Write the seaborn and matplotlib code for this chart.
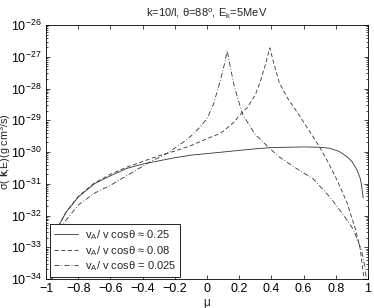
import numpy as np
import pandas as pd
import matplotlib
matplotlib.use("Agg")
import matplotlib.pyplot as plt
import seaborn as sns
from matplotlib.ticker import LogLocator, FixedLocator, NullLocator, FuncFormatter

# ---- data (log10 of sigma) ----
mu_a = [-0.97, -0.95, -0.94, -0.876, -0.8, -0.7, -0.6, -0.5, -0.4, -0.3, -0.2, -0.1,
        0.0, 0.1, 0.2, 0.3, 0.4, 0.5, 0.6, 0.7, 0.76, 0.82, 0.87, 0.9, 0.93, 0.95, 0.96, 0.97]
lg_a = [-34.0, -33.2, -32.5, -31.9, -31.42, -31.0, -30.75, -30.52, -30.38, -30.28, -30.18, -30.1,
        -30.05, -30.0, -29.95, -29.9, -29.86, -29.85, -29.84, -29.85, -29.88, -29.98, -30.15, -30.3,
        -30.55, -30.8, -31.05, -31.45]

mu_b = [-0.97, -0.95, -0.94, -0.876, -0.8, -0.7, -0.6, -0.5, -0.4, -0.3, -0.2, -0.1, 0.0, 0.06,
        0.1, 0.17, 0.2, 0.25, 0.3, 0.33, 0.36, 0.39, 0.42, 0.45, 0.5, 0.58, 0.65, 0.7, 0.75, 0.8,
        0.87, 0.92, 0.95, 0.97, 0.975]
lg_b = [-34.0, -33.2, -32.5, -31.9, -31.4, -30.98, -30.7, -30.48, -30.3, -30.12, -29.97, -29.8,
        -29.58, -29.46, -29.35, -29.05, -28.85, -28.6, -28.2, -27.8, -27.3, -26.72, -27.3, -27.83,
        -28.3, -28.9, -29.45, -29.85, -30.3, -30.8, -31.6, -32.4, -33.0, -33.8, -34.0]

mu_c = [-0.96, -0.93, -0.9, -0.8, -0.7, -0.6, -0.5, -0.4, -0.35, -0.25, -0.15, -0.1, -0.05, 0.0,
        0.04, 0.08, 0.11, 0.125, 0.14, 0.17, 0.22, 0.25, 0.3, 0.38, 0.45, 0.55, 0.66, 0.76, 0.85,
        0.91, 0.96, 0.98, 0.99]
lg_c = [-34.0, -32.8, -32.3, -31.67, -31.3, -31.05, -30.75, -30.45, -30.3, -30.05, -29.7, -29.5,
        -29.25, -28.95, -28.5, -27.8, -27.2, -26.8, -27.2, -27.95, -28.8, -29.05, -29.45, -29.84,
        -30.16, -30.5, -30.85, -31.4, -32.0, -32.45, -33.1, -33.6, -34.0]

labels = ["v$_\\mathregular{A}$/ v cos\u03b8 \u2248 0.25",
          "v$_\\mathregular{A}$/ v cos\u03b8 \u2248 0.08",
          "v$_\\mathregular{A}$/ v cos\u03b8 = 0.025"]
styles = ["-", (0, (5, 3)), (0, (6, 2.5, 1, 2.5))]

xticks = [-1, -0.8, -0.6, -0.4, -0.2, 0, 0.2, 0.4, 0.6, 0.8, 1]

sns.set_theme(style="ticks")
plt.rcParams["font.family"] = ["Liberation Sans", "DejaVu Sans"]
plt.rcParams["mathtext.fontset"] = "custom"
plt.rcParams["mathtext.rm"] = "Liberation Sans"
plt.rcParams["mathtext.it"] = "Liberation Sans:italic"
plt.rcParams["mathtext.bf"] = "Liberation Sans:bold"

fig = plt.figure(figsize=(3.74, 3.08), dpi=100)
ax = fig.add_axes([46 / 374, 29 / 308, 322 / 374, 254 / 308])

for mu, lg, lab, ls in zip([mu_a, mu_b, mu_c], [lg_a, lg_b, lg_c], labels, styles):
    df = pd.DataFrame({"mu": mu, "sigma": 10.0 ** np.array(lg)})
    sns.lineplot(data=df, x="mu", y="sigma", ax=ax, color="#333333", linewidth=0.6,
                 linestyle=ls, label=lab, sort=True)

ax.set_yscale("log")
ax.set_xlim(-1, 1)
ax.set_ylim(1e-34, 1e-26)
ax.xaxis.set_major_locator(FixedLocator(xticks))
ax.xaxis.set_minor_locator(NullLocator())
ax.xaxis.set_major_formatter(FuncFormatter(lambda v, p: ("%g" % v).replace("-", "\u2212")))
ax.yaxis.set_major_locator(LogLocator(base=10, numticks=20))
ax.yaxis.set_minor_locator(LogLocator(base=10, subs=np.arange(2, 10), numticks=20))

ax.tick_params(which="both", direction="in", top=True, right=True, labelsize=9, colors="black",
               width=0.5, pad=3)
ax.tick_params(which="major", length=3)
ax.tick_params(which="minor", length=1.5)
for s in ax.spines.values():
    s.set_linewidth(0.6)
    s.set_color("black")

ax.set_xlabel("\u03bc", fontsize=8.5, labelpad=1)
ax.set_ylabel("\u03c3( $\\mathbf{k}$,E)(g cm$^3$/s)", fontsize=7.7)
ax.yaxis.set_label_coords(-0.101, 0.5)
ax.set_title("k=10/l, \u03b8=88$^\\mathregular{o}$, E$_\\mathregular{k}$=5MeV", fontsize=8, pad=6)

leg = ax.legend(loc="lower left", bbox_to_anchor=(0.012, 0.008), borderaxespad=0,
                fontsize=8, frameon=True, fancybox=False, framealpha=1, edgecolor="black",
                handlelength=2.2, handletextpad=0.6, borderpad=0.35, labelspacing=0.15)
leg.get_frame().set_linewidth(0.6)

fig.savefig("out.png", dpi=100)
